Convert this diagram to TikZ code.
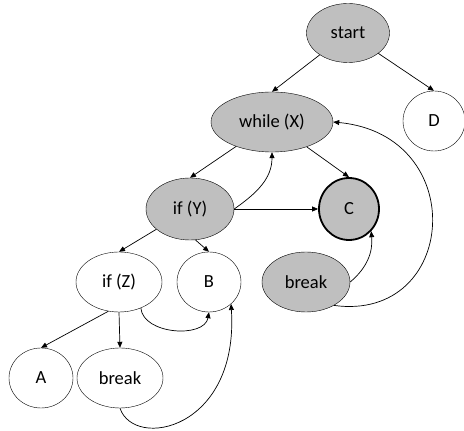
\documentclass[tikz,border=0pt]{standalone}
\usepackage{fontspec}
\setmainfont{Carlito}
\usepackage{tikz}
\usetikzlibrary{arrows.meta,shapes.geometric,positioning}
\definecolor{nodegray}{RGB}{191,191,191}

\begin{document}
\begin{tikzpicture}[x=1pt, y=1pt,
    cfgnode/.style={draw, ellipse, inner sep=0pt, font=\fontsize{18.5}{22}\selectfont},
    visited/.style={cfgnode, fill=nodegray},
    plain/.style={cfgnode, fill=white},
    edge/.style={-{Triangle[length=6pt, width=5pt]}, line width=0.7pt}]
    \useasboundingbox (0,0) rectangle (464,431);

    % Visited nodes
    \node[visited, minimum width=83pt, minimum height=59pt] (start) at (348,398) {start};
    \node[visited, minimum width=122pt, minimum height=60pt] (while) at (272,309) {while (X)};
    \node[visited, minimum width=88pt, minimum height=62pt] (ifY) at (190,222) {if (Y)};
    \node[visited, line width=1.8pt, minimum width=60pt, minimum height=62pt] (C) at (349,222) {C};
    \node[visited, minimum width=88pt, minimum height=60pt] (breakR) at (306,149) {break};

    % Unvisited nodes
    \node[plain, minimum width=62pt, minimum height=60pt] (D) at (434,310) {D};
    \node[plain, minimum width=86pt, minimum height=60pt] (ifZ) at (119,149) {if (Z)};
    \node[plain, minimum width=64pt, minimum height=60pt] (B) at (209,149) {B};
    \node[plain, minimum width=64pt, minimum height=60pt] (A) at (41,53) {A};
    \node[plain, minimum width=86pt, minimum height=60pt] (breakL) at (120,53) {break};

    % Tree edges
    \draw[edge] (start) -- (D.north);
    \draw[edge] (start) -- (while.north);
    \draw[edge] (while) -- (ifY.north);
    \draw[edge] (while) -- (C.north);
    \draw[edge] (ifY.east) -- (C.west);
    \draw[edge] (ifY) -- (ifZ.north);
    \draw[edge] (ifY.-80) -- (B.north);
    \draw[edge] (ifZ.-110) -- (A.north);
    \draw[edge] (ifZ.south) -- (breakL.north);

    % Back edges and jumps
    \draw[edge] (ifY.east) to[out=35, in=-90] (while.south);
    \draw[edge] (ifZ.-50) to[out=-85, in=-100] (B.south);
    \draw[edge] (breakR.east) to[out=40, in=-85] (C.-45);
    \draw[edge] (breakL.south) .. controls +(14,-42) and +(8,-126) .. (B.-45);
    \draw[edge] (breakR.-40) .. controls +(124,-17) and +(138,-13) .. (while.east);
\end{tikzpicture}
\end{document}
